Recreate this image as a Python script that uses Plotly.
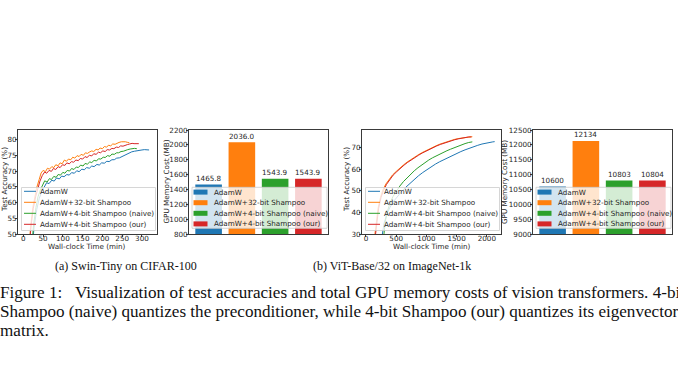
import plotly.graph_objects as go

W, H = 678, 381

# ---------------- data ----------------
methods = ["AdamW", "AdamW+32-bit Shampoo", "AdamW+4-bit Shampoo (naive)", "AdamW+4-bit Shampoo (our)"]
colors = ["#1f77b4", "#ff7f0e", "#2ca02c", "#d62728"]

# (a) Swin-Tiny on CIFAR-100 : test accuracy vs wall-clock time
a_adamw_t = [5, 21, 27, 34, 40, 46, 53, 59, 65, 72, 78, 84, 91, 97, 103, 110, 116, 122, 129, 135, 141, 148, 154, 160,
             167, 173, 179, 186, 192, 198, 205, 211, 217, 224, 230, 236, 243, 249, 255, 262, 268, 274, 281, 287, 293,
             300, 306, 312, 318]
a_adamw_acc = [20, 43, 52, 57.8, 61.2, 63.4, 65.0, 66.3, 66.0, 67.1, 66.8, 67.8, 67.5, 68.4, 68.2, 68.9, 68.7, 69.5, 69.3,
               70.1, 69.8, 70.6, 70.4, 71.1, 70.9, 71.6, 71.4, 72.1, 71.9, 72.6, 72.5, 73.1, 73.0, 73.6, 73.6, 74.1,
               74.2, 74.6, 74.8, 75.5, 75.8, 76.1, 76.3, 76.5, 76.6, 76.7, 76.8, 76.8, 76.7]
a_s32_t = [3, 13, 18, 24, 29, 34, 40, 45, 50, 56, 61, 66, 72, 77, 82, 88, 93, 98, 104, 109, 114, 120, 125, 130, 136,
           141, 146, 152, 157, 162, 168, 173, 178, 184, 189, 194, 200, 205, 210, 216, 221, 226, 232, 237, 242, 248,
           253, 258, 264, 268]
a_s32_acc = [20, 44, 52, 58.5, 62, 64.8, 67.3, 69.4, 70.2, 69.8, 70.9, 70.6, 71.4, 71.1, 72.0, 71.7, 72.6, 72.3, 73.5,
             73.1, 73.8, 73.6, 74.4, 74.1, 74.9, 74.6, 75.3, 75.0, 75.8, 75.6, 76.1, 76.4, 76.2, 76.9, 76.7, 77.3,
             77.1, 77.8, 77.6, 78.2, 78.0, 78.6, 78.5, 78.9, 79.1, 79.3, 79.4, 79.3, 79.1, 79.0]
a_naive_t = [4, 20, 26, 32, 37, 43, 49, 54, 60, 66, 71, 77, 83, 88, 94, 100, 105, 111, 117, 122, 128, 134, 139, 145,
             151, 156, 162, 168, 173, 179, 185, 190, 196, 202, 207, 213, 219, 224, 230, 236, 241, 247, 253, 258, 264,
             270, 275, 281, 287]
a_naive_acc = [20, 44, 53, 58.5, 61.8, 64.0, 65.7, 66.9, 66.5, 67.6, 67.3, 68.3, 68.0, 68.9, 68.7, 69.6, 69.3, 70.2,
               70.0, 70.8, 70.5, 71.3, 71.1, 71.9, 71.6, 72.4, 72.2, 72.9, 72.7, 73.4, 73.2, 73.9, 73.8, 74.4, 74.3,
               74.9, 74.7, 75.4, 75.3, 75.8, 75.8, 76.2, 76.3, 76.6, 76.8, 77.0, 77.1, 77.2, 77.1]
a_our_t = [3, 14, 20, 25, 31, 37, 42, 48, 54, 59, 65, 71, 76, 82, 88, 93, 99, 105, 110, 116, 122, 127, 133, 139, 144,
           150, 156, 161, 167, 173, 178, 184, 190, 195, 201, 207, 212, 218, 224, 229, 235, 241, 246, 252, 258, 263,
           269, 275, 280, 286, 292]
a_our_acc = [20, 45, 53, 58, 61.8, 64.6, 66.8, 68.6, 69.7, 69.3, 70.2, 69.9, 70.8, 70.5, 71.4, 71.1, 72.0, 71.8, 72.6,
             72.3, 73.0, 72.8, 73.5, 73.3, 74.0, 73.8, 74.6, 74.3, 75.0, 74.8, 75.5, 75.3, 76.0, 75.8, 76.4, 76.2,
             76.8, 76.7, 77.2, 77.1, 77.6, 77.5, 78.0, 77.9, 78.3, 78.4, 78.6, 78.8, 78.7, 78.8, 78.7]

# (a) GPU memory cost (MB)
a_mem = [1465.8, 2036.0, 1543.9, 1543.9]

# (b) ViT-Base/32 on ImageNet-1k : test accuracy vs wall-clock time
b_adamw_t = [260, 300, 350, 400, 460, 520, 590, 660, 730, 800, 870, 940, 1010, 1080, 1150, 1220, 1290, 1360, 1430,
             1500, 1570, 1640, 1710, 1780, 1850, 1920, 1990, 2050, 2100, 2130]
b_adamw_acc = [28, 35, 39.5, 42.5, 45.2, 47.5, 49.7, 51.7, 53.6, 55.4, 57.0, 58.5, 59.9, 61.2, 62.4, 63.5, 64.5, 65.5,
               66.4, 67.3, 68.2, 69.0, 69.8, 70.5, 71.1, 71.7, 72.2, 72.5, 72.7, 72.8]
b_s32_t = [140, 170, 200, 240, 280, 330, 380, 440, 500, 560, 620, 680, 740, 800, 860, 920, 980, 1040, 1100, 1160, 1220,
           1280, 1340, 1400, 1460, 1520, 1580, 1640, 1700, 1760]
b_s32_acc = [28, 36, 42, 47, 50.5, 53.2, 55.4, 57.4, 59.0, 60.6, 62.0, 63.3, 64.5, 65.6, 66.6, 67.6, 68.5, 69.4, 70.2,
             70.9, 71.6, 72.2, 72.8, 73.3, 73.8, 74.2, 74.5, 74.8, 75.0, 75.1]
b_naive_t = [290, 320, 360, 400, 450, 500, 560, 620, 680, 740, 800, 860, 920, 980, 1040, 1100, 1160, 1220, 1280, 1340,
             1400, 1460, 1520, 1580, 1640, 1700, 1760]
b_naive_acc = [28, 36, 41, 44.5, 47.5, 49.8, 52.2, 54.3, 56.1, 57.8, 59.3, 60.7, 62.0, 63.2, 64.3, 65.3, 66.2, 67.0,
               67.8, 68.6, 69.3, 70.0, 70.7, 71.3, 71.9, 72.4, 72.7]
b_our_t = [150, 180, 210, 250, 290, 340, 390, 450, 510, 570, 630, 690, 750, 810, 870, 930, 990, 1050, 1110, 1170, 1230,
           1290, 1350, 1410, 1470, 1530, 1590, 1650, 1700, 1745]
b_our_acc = [28, 36.5, 42, 47, 50.2, 53.0, 55.2, 57.3, 58.9, 60.5, 61.9, 63.2, 64.4, 65.5, 66.5, 67.5, 68.4, 69.3, 70.1,
             70.8, 71.5, 72.1, 72.7, 73.2, 73.7, 74.1, 74.5, 74.8, 75.0, 75.0]

# (b) GPU memory cost (MB)
b_mem = [10600, 12134, 10803, 10804]

# tick labels
a_acc_ticks = [50, 55, 60, 65, 70, 75, 80]
a_time_ticks = [0, 50, 100, 150, 200, 250, 300]
a_mem_ticks = [800, 1000, 1200, 1400, 1600, 1800, 2000, 2200]
b_acc_ticks = [30, 40, 50, 60, 70]
b_time_ticks = [0, 500, 1000, 1500, 2000]
b_mem_ticks = [9000, 9500, 10000, 10500, 11000, 11500, 12000, 12500]

captions = ["(a) Swin-Tiny on CIFAR-100", "(b) ViT-Base/32 on ImageNet-1k"]
fig_caption = [
    "Figure 1:\u00a0\u00a0\u00a0Visualization of test accuracies and total GPU memory costs of vision transformers. 4-bit",
    "Shampoo (naive) quantizes the preconditioner, while 4-bit Shampoo (our) quantizes its eigenvector",
    "matrix.",
]

# ---------------- helpers ----------------
def px(x):
    return x / W


def py(y):
    return 1 - y / H


FONT = "DejaVu Sans"
FS = 7.2
TXT = "#262626"
FRAME = "#3a3a3a"
SERIF = "Liberation Serif"

fig = go.Figure()

line_sets = [
    ("x", "y", [(a_adamw_t, a_adamw_acc), (a_s32_t, a_s32_acc), (a_naive_t, a_naive_acc), (a_our_t, a_our_acc)]),
    ("x3", "y3", [(b_adamw_t, b_adamw_acc), (b_s32_t, b_s32_acc), (b_naive_t, b_naive_acc), (b_our_t, b_our_acc)]),
]
for xa, ya, series in line_sets:
    for (t, acc), name, c in zip(series, methods, colors):
        fig.add_trace(go.Scatter(x=t, y=acc, mode="lines", name=name, xaxis=xa, yaxis=ya,
                                 line=dict(color=c, width=1), showlegend=False, hoverinfo="skip"))

annotations = []
for xa, ya, mem, fmt in [("x2", "y2", a_mem, "{:.1f}"), ("x4", "y4", b_mem, "{:d}")]:
    xs = list(range(len(mem)))
    fig.add_trace(go.Bar(x=xs, y=mem, xaxis=xa, yaxis=ya, width=0.8,
                         marker=dict(color=colors, line=dict(width=0)),
                         showlegend=False, hoverinfo="skip"))
    for xi, v in zip(xs, mem):
        annotations.append(dict(text=fmt.format(v), x=xi, y=v, xref=xa, yref=ya, xanchor="center",
                                yanchor="bottom", showarrow=False, yshift=-0.5,
                                font=dict(family=FONT, size=FS, color=TXT)))

common_ax = dict(showline=True, linecolor=FRAME, linewidth=0.8, mirror=True, showgrid=False, zeroline=False,
                 ticks="outside", ticklen=2, tickwidth=0.7, tickcolor=FRAME, automargin=False,
                 tickfont=dict(family=FONT, size=FS, color=TXT), fixedrange=True)

boxes = {1: (18, 157, 129.5, 234), 2: (189, 328, 130, 234), 3: (362, 501, 130, 234), 4: (533, 672, 130, 234)}
layout = {}
for i, (x0, x1, y0, y1) in boxes.items():
    s = "" if i == 1 else str(i)
    layout["xaxis" + s] = dict(domain=[px(x0), px(x1)], anchor="y" + s, ticklabelstandoff=-5, **common_ax)
    layout["yaxis" + s] = dict(domain=[py(y1), py(y0)], anchor="x" + s, ticklabelstandoff=-3, **common_ax)

layout["xaxis"].update(range=[-13.5, 338], tickvals=a_time_ticks)
layout["yaxis"].update(range=[50, 83.2], tickvals=a_acc_ticks)
layout["xaxis2"].update(range=[-0.59, 3.59], showticklabels=False, ticks="")
layout["yaxis2"].update(range=[800, 2200], tickvals=a_mem_ticks, tickformat="d")
layout["xaxis3"].update(range=[-66, 2235], tickvals=b_time_ticks)
layout["yaxis3"].update(range=[30, 78.2], tickvals=b_acc_ticks)
layout["xaxis4"].update(range=[-0.59, 3.59], showticklabels=False, ticks="")
layout["yaxis4"].update(range=[9000, 12500], tickvals=b_mem_ticks, tickformat="d")

shapes = []


def add_legend(x0, y0, w, kind):
    if kind == "line":
        h, top, step = 43, 3.8, 11.0
    else:
        h, top, step = 41, 4.8, 10.6
    shapes.append(dict(type="rect", xref="paper", yref="paper", x0=px(x0), x1=px(x0 + w), y0=py(y0 + h), y1=py(y0),
                       fillcolor="rgba(255,255,255,0.8)", line=dict(color="#cccccc", width=0.8), layer="above"))
    for i, (name, c) in enumerate(zip(methods, colors)):
        yy = y0 + top + i * step
        if kind == "line":
            shapes.append(dict(type="line", xref="paper", yref="paper", x0=px(x0 + 2.5), x1=px(x0 + 14.5),
                               y0=py(yy), y1=py(yy), line=dict(color=c, width=1), layer="above"))
            tx = x0 + 16.5
        else:
            shapes.append(dict(type="rect", xref="paper", yref="paper", x0=px(x0 + 1.5), x1=px(x0 + 15.5),
                               y0=py(yy + 2.5), y1=py(yy - 2.5), fillcolor=c, line=dict(width=0), layer="above"))
            tx = x0 + 19.5
        annotations.append(dict(text=name, x=px(tx), y=py(yy), xref="paper", yref="paper", xanchor="left",
                                yanchor="middle", showarrow=False, font=dict(family=FONT, size=FS, color=TXT)))


add_legend(21.5, 187.5, 134, "line")
add_legend(192, 187.3, 135, "bar")
add_legend(365.5, 187.5, 134, "line")
add_legend(536, 187.3, 135, "bar")


def label(text, x, y, angle=0, size=FS, family=FONT, color=TXT, xanchor="center"):
    annotations.append(dict(text=text, x=px(x), y=py(y), xref="paper", yref="paper", xanchor=xanchor,
                            yanchor="middle", showarrow=False, textangle=angle,
                            font=dict(family=family, size=size, color=color)))


label("Test Accuracy (%)", 4, 180, -90)
label("Wall-clock Time (min)", 87.5, 246.5)
label("GPU Memory Cost (MB)", 165.5, 182, -90)
label("Test Accuracy (%)", 346, 180, -90)
label("Wall-clock Time (min)", 431.5, 246.5)
label("GPU Memory Cost (MB)", 504, 182, -90)

label(captions[0], 126, 265.5, size=12, family=SERIF, color="#111111")
label(captions[1], 392, 265.5, size=12, family=SERIF, color="#111111")
for txt, yy in zip(fig_caption, [292, 311, 330]):
    label(txt, -2.5, yy, size=17.1, family=SERIF, color="#111111", xanchor="left")

fig.update_layout(template="none", width=W, height=H, autosize=False, margin=dict(l=0, r=0, t=0, b=0, pad=0),
                  paper_bgcolor="white", plot_bgcolor="white", shapes=shapes, annotations=annotations,
                  showlegend=False, **layout)

fig.write_html("out.html", config={"displayModeBar": False},
               post_script="document.body.style.margin='0';document.body.style.overflow='hidden';")
